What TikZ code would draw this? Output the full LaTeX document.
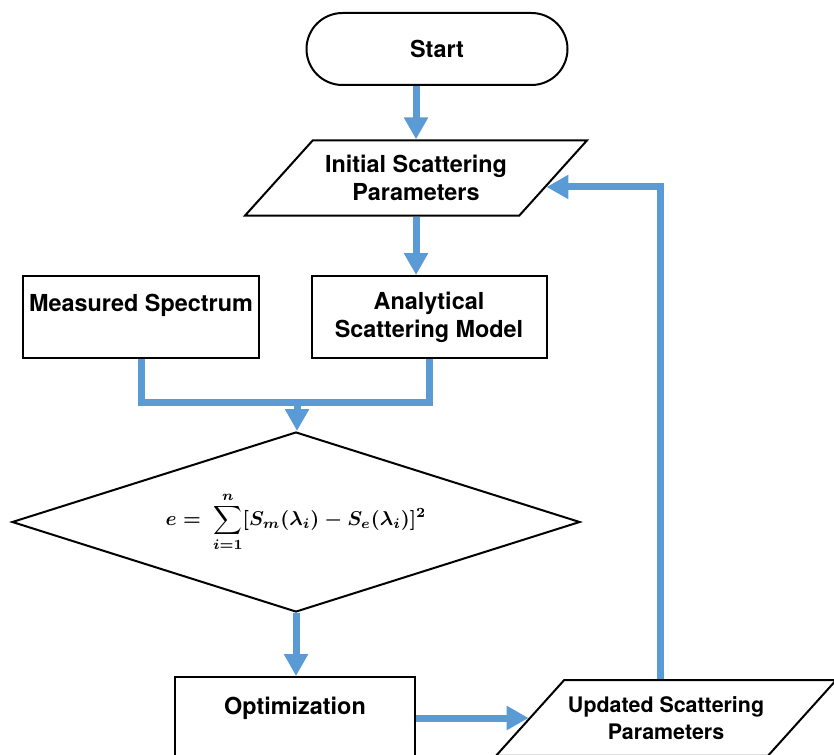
\documentclass[tikz,border=0pt]{standalone}
\usepackage{fontspec}
\setmainfont{TeX Gyre Heros}
\usepackage{amsmath}
\usetikzlibrary{arrows.meta,shapes.geometric,shapes.misc}
\definecolor{flowblue}{HTML}{5B9BD5}
\newcommand{\errorsum}{{\boldmath$\displaystyle e =\ \sum_{i=1}^{n}[S_m(\lambda_i) - S_e(\lambda_i)]^2$}}

\begin{document}
\begin{tikzpicture}[x=0.5pt,y=-0.5pt,
        main node/.style={draw,line width=1pt,font=\fontsize{11.7}{14}\selectfont\bfseries,align=center,inner sep=0pt},
        box node/.style={main node,rectangle,minimum height=41pt},
        slant node/.style={main node,trapezium,trapezium left angle=48,trapezium right angle=132,
            trapezium stretches body,inner ysep=7.4pt,minimum width=171pt},
        flow/.style={draw=flowblue,line width=3.5pt,-{Triangle[width=11.5pt,length=11pt]}}]

        \useasboundingbox (0,0) rectangle (834,754);
        \clip (0,0) rectangle (834,754);

        % Define vertices
        \node[main node,rounded rectangle,minimum width=130.5pt,minimum height=36pt] (start) at (437,49) {Start};
        \node[slant node] (init) at (416,178) {Initial Scattering\\Parameters};
        \node[box node,minimum width=118pt,text depth=14.5pt] (meas) at (141,317) {Measured Spectrum};
        \node[box node,minimum width=117.5pt] (model) at (429,317) {Analytical\\Scattering Model};
        \node[main node,diamond,aspect=3.16,minimum width=284pt,minimum height=90pt,font=\fontsize{10}{12}\selectfont] (error) at (296,522) {\errorsum};
        \node[main node,anchor=north,minimum width=120pt,inner ysep=10pt,text height=8.5pt,text depth=14pt] (optim) at (295,676) {Optimization};
        \node[slant node,minimum width=170pt,inner ysep=8.1pt,font=\fontsize{10.7}{13.5}\selectfont\bfseries] (update) at (666,718) {Updated Scattering\\Parameters};
        \coordinate (join) at (297,402);

        % Draw edges
        \draw[flow] (start.south -| init.north) -- (init.north);
        \draw[flow] (init.south) -- (init.south |- model.north);
        \draw[draw=flowblue,line width=3.5pt] (meas.south) |- (join) -| (model.south);
        \draw[flow] (join) -- (join |- error.north);
        \draw[flow] (error.south) -- (error.south |- optim.north);
        \draw[flow] (optim.east |- update.west) -- (update.west);
        \draw[flow] ([xshift=-3pt]update.north) |- ([xshift=-4pt,yshift=-4.5pt]init.east);

\end{tikzpicture}
\end{document}
